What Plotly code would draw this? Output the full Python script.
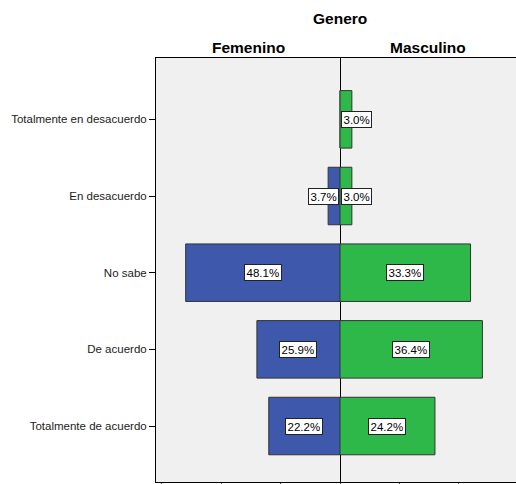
import plotly.graph_objects as go

categories = ["Totalmente en desacuerdo", "En desacuerdo", "No sabe", "De acuerdo", "Totalmente de acuerdo"]
femenino_counts = [0, 1, 13, 7, 6]
masculino_counts = [1, 1, 11, 12, 8]
group_title = "Genero"
group_names = ["Femenino", "Masculino"]

BLUE = "#3e58ac"
GREEN = "#2eb84a"
BG = "#f0f0f0"
FONT = "Liberation Sans, Arial, sans-serif"

fem_total = sum(femenino_counts)
masc_total = sum(masculino_counts)

fig = go.Figure()
fig.add_trace(go.Bar(
    y=categories, x=femenino_counts, orientation="h", xaxis="x", yaxis="y",
    marker=dict(color=BLUE, line=dict(color="#333333", width=1)), width=0.75,
    hoverinfo="skip", showlegend=False))
fig.add_trace(go.Bar(
    y=categories, x=masculino_counts, orientation="h", xaxis="x2", yaxis="y2",
    marker=dict(color=GREEN, line=dict(color="#333333", width=1)), width=0.75,
    hoverinfo="skip", showlegend=False))

annotations = []
def add_labels(counts, total, xref, side):
    for cat, c in zip(categories, counts):
        if c == 0:
            continue
        txt = f"{100 * c / total:.1f}%"
        small = c < 3
        if small:
            x = 0
            xanchor = "right" if side == "left" else "left"
            xshift = -1 if side == "left" else 1
        else:
            x = c / 2
            xanchor = "center"
            xshift = 0
        annotations.append(dict(
            x=x, y=cat, xref=xref, yref="y", text=txt, showarrow=False,
            xanchor=xanchor, xshift=xshift,
            font=dict(family=FONT, size=11.5, color="#000000"),
            bgcolor="#ffffff", bordercolor="#222222", borderwidth=1, borderpad=1.5))

add_labels(femenino_counts, fem_total, "x", "left")
add_labels(masculino_counts, masc_total, "x2", "right")

split = 184 / 360
annotations.append(dict(x=split, y=1, xref="paper", yref="paper", yshift=40, text=f"<b>{group_title}</b>",
                        showarrow=False, xanchor="center", yanchor="middle",
                        font=dict(family=FONT, size=15.5, color="#000000")))
annotations.append(dict(x=0.5, y=1, xref="x domain", yref="paper", yshift=11, text=f"<b>{group_names[0]}</b>",
                        showarrow=False, xanchor="center", yanchor="middle",
                        font=dict(family=FONT, size=15.5, color="#000000")))
annotations.append(dict(x=0.5, y=1, xref="x2 domain", yref="paper", yshift=11, text=f"<b>{group_names[1]}</b>",
                        showarrow=False, xanchor="center", yanchor="middle",
                        font=dict(family=FONT, size=15.5, color="#000000")))

xcommon = dict(showgrid=False, zeroline=False, showline=True, linecolor="#000000", linewidth=1,
               mirror=True, ticks="outside", ticklen=3, tickcolor="#555555",
               tickvals=[0, 5, 10, 15], showticklabels=False, fixedrange=True)
ycommon = dict(showgrid=False, zeroline=False, linecolor="#000000", linewidth=1,
               categoryorder="array", categoryarray=categories,
               range=[4.73, -0.8], fixedrange=True)

fig.update_layout(
    width=516, height=484,
    margin=dict(l=156, r=0, t=58, b=2),
    paper_bgcolor="#ffffff", plot_bgcolor=BG,
    barmode="overlay",
    hovermode=False,
    xaxis=dict(domain=[0, split], range=[15.5, 0], **xcommon),
    xaxis2=dict(domain=[split, 1], range=[0, 14.83], anchor="y2", **xcommon),
    yaxis=dict(anchor="x", ticks="outside", ticklen=6, tickcolor="#000000", showline=True, mirror=True,
               tickfont=dict(family=FONT, size=11.5, color="#222222"), **ycommon),
    yaxis2=dict(anchor="x2", matches="y", showticklabels=False, ticks="", showline=False, **ycommon),
    annotations=annotations,
    font=dict(family=FONT),
)

fig.write_html("out.html",
               config={"displayModeBar": False, "staticPlot": True},
               post_script="document.body.style.margin='0';document.body.style.overflow='hidden';")
